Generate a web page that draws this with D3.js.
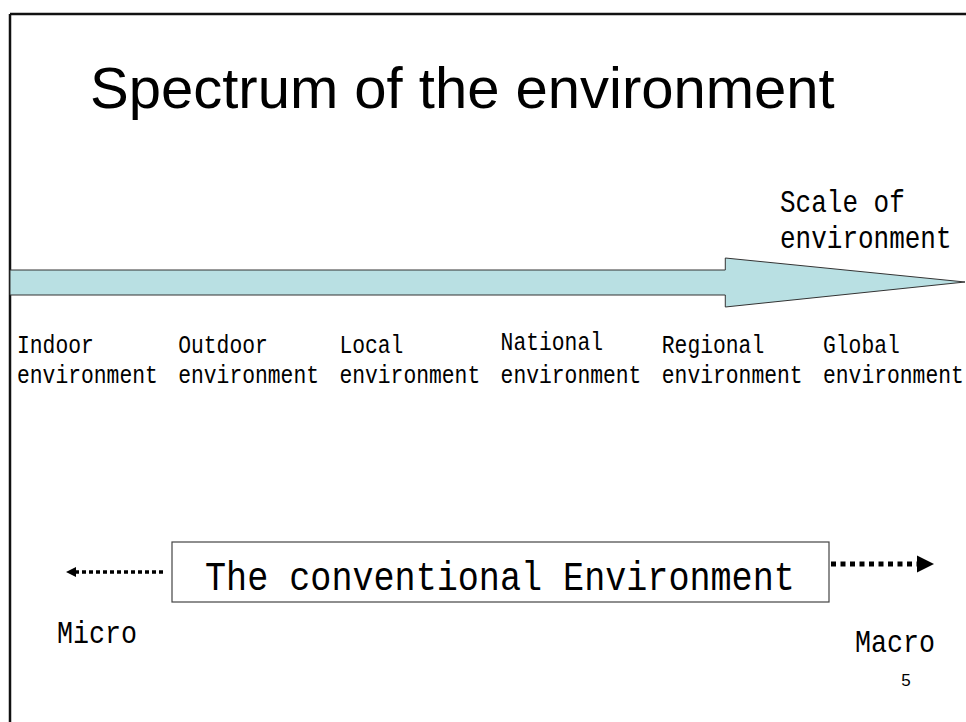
<!DOCTYPE html>
<html>
<head>
<meta charset="utf-8">
<script src="https://cdn.jsdelivr.net/npm/d3@7"></script>
<style>
  body { margin: 0; background: #fff; }
  svg { display: block; }
</style>
</head>
<body>
<svg width="966" height="722"></svg>
<script>
// slide content
const titleText = "Spectrum of the environment";
const scaleLabel = ["Scale of", "environment"];
const categories = ["Indoor", "Outdoor", "Local", "National", "Regional", "Global"];
const secondLine = ["environment", "environment", "environment", "environment", "environment", "environment"];
const boxText = "The conventional Environment";
const endLabels = ["Micro", "Macro"];
const pageNumber = "5";

const width = 966, height = 722;
const svg = d3.select("svg");
const mono = "'Liberation Mono', 'DejaVu Sans Mono', monospace";
const stretch = 1.18; // SimSun latin glyphs are a bit taller than Courier-like ones

// mono text whose char width is charW, stretched vertically
function monoText(sel, charW, xf, yf) {
  sel.attr("font-family", mono)
    .attr("font-size", (charW / 0.6) + "px")
    .attr("fill", "#000")
    .attr("transform", (d, i) => `translate(${xf(d, i)},${yf(d, i)}) scale(1,${stretch})`)
}

// slide frame (top + left edge)
svg.append("line")
  .attr("x1", 10).attr("x2", width)
  .attr("y1", 14).attr("y2", 14)
  .attr("stroke", "#111").attr("stroke-width", 2.5)
svg.append("line")
  .attr("x1", 10).attr("x2", 10)
  .attr("y1", 14).attr("y2", height)
  .attr("stroke", "#111").attr("stroke-width", 2.5)

// title
svg.append("text")
  .attr("x", 90)
  .attr("y", 108)
  .attr("font-family", "'Liberation Sans', Arial, sans-serif")
  .attr("font-size", "58px")
  .attr("fill", "#000")
  .text(titleText)

// big scale arrow
const arrowX = d3.scaleLinear().domain([0, 1]).range([10, 965]);
const shaftTop = 270, shaftBot = 295, headTop = 258, headBot = 307, mid = 282;
const headStart = arrowX(0.749);
const arrowPts = [
  [arrowX(0), shaftTop], [headStart, shaftTop], [headStart, headTop],
  [arrowX(1), mid],
  [headStart, headBot], [headStart, shaftBot], [arrowX(0), shaftBot]
];
svg.append("path")
  .attr("d", d3.line()(arrowPts) + "Z")
  .attr("fill", "#b9e0e3")
  .attr("stroke", "#333")
  .attr("stroke-width", 1)

// scale label
svg.selectAll(".scl")
  .data(scaleLabel)
  .enter().append("text")
  .attr("class", "scl")
  .call(monoText, 15.6, () => 780, (d, i) => 212 + i * 36)
  .text(d => d)

// category labels along the scale
const x = d3.scalePoint()
  .domain(categories)
  .range([17, 823]);

svg.selectAll(".cat1")
  .data(categories)
  .enter().append("text")
  .attr("class", "cat1")
  .call(monoText, 12.8, d => x(d), (d, i) => i === 3 ? 350 : 353)
  .text(d => d)

svg.selectAll(".cat2")
  .data(secondLine)
  .enter().append("text")
  .attr("class", "cat2")
  .call(monoText, 12.8, (d, i) => x(categories[i]), () => 383)
  .text(d => d)

// conventional environment box
svg.append("rect")
  .attr("x", 172).attr("y", 542)
  .attr("width", 657).attr("height", 60)
  .attr("fill", "#fff")
  .attr("stroke", "#444")
  .attr("stroke-width", 1.2)

svg.append("text")
  .datum(boxText)
  .call(monoText, 21.07, () => 205, () => 590)
  .text(d => d)

// dotted arrows
svg.append("line")
  .attr("x1", 163).attr("x2", 74)
  .attr("y1", 572).attr("y2", 572)
  .attr("stroke", "#000").attr("stroke-width", 3.5)
  .attr("stroke-dasharray", "4,3")
svg.append("path")
  .attr("d", d3.line()([[66, 572], [76, 567], [76, 577]]) + "Z")
  .attr("fill", "#000")

svg.append("line")
  .attr("x1", 831).attr("x2", 918)
  .attr("y1", 564).attr("y2", 564)
  .attr("stroke", "#000").attr("stroke-width", 5)
  .attr("stroke-dasharray", "5,4.5")
svg.append("path")
  .attr("d", d3.line()([[934, 564], [917, 555.5], [917, 572.5]]) + "Z")
  .attr("fill", "#000")

// micro / macro
svg.selectAll(".end")
  .data(endLabels)
  .enter().append("text")
  .attr("class", "end")
  .call(monoText, 16, (d, i) => i === 0 ? 57 : 855, (d, i) => i === 0 ? 643 : 652)
  .text(d => d)

// page number
svg.append("text")
  .attr("x", 906)
  .attr("y", 686)
  .attr("text-anchor", "middle")
  .attr("font-family", "'Liberation Sans', Arial, sans-serif")
  .attr("font-size", "17px")
  .attr("fill", "#000")
  .text(pageNumber)
</script>
</body>
</html>
